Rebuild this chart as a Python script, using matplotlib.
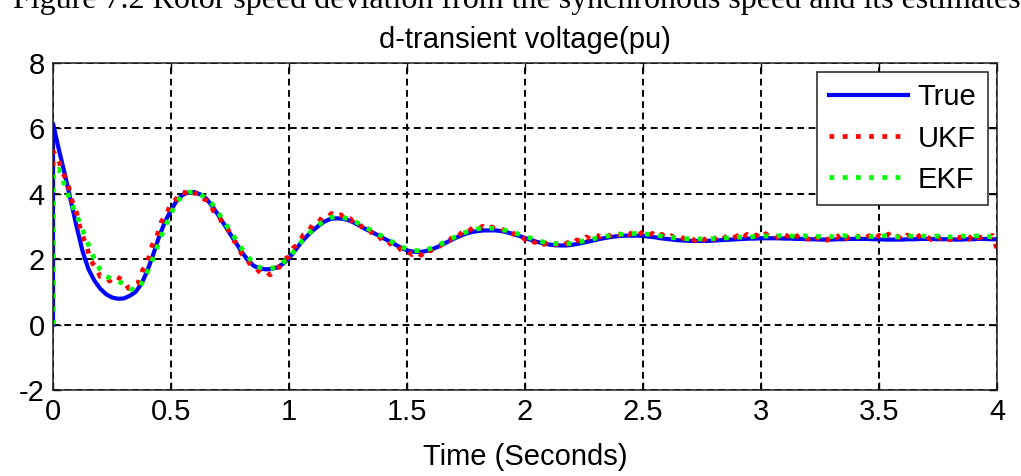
import numpy as np
import matplotlib
matplotlib.use("Agg")
import matplotlib.pyplot as plt

plt.rcParams['font.family'] = ['Liberation Sans', 'DejaVu Sans']
plt.rcParams['axes.unicode_minus'] = False

# d-transient voltage (pu): true trajectory, sampled every 0.025 s from t = 0
true_vals = [
    6.15, 5.35, 4.60, 3.80, 3.00, 2.25, 1.70, 1.35, 1.10, 0.93,
    0.83, 0.79, 0.80, 0.88, 1.00, 1.25, 1.65, 2.15, 2.70, 3.15,
    3.50, 3.80, 3.97, 4.05, 4.05, 3.98, 3.85, 3.62, 3.35, 3.07,
    2.78, 2.50, 2.22, 1.98, 1.80, 1.72, 1.69, 1.70, 1.75, 1.86,
    2.02, 2.26, 2.50, 2.70, 2.87, 3.02, 3.15, 3.23, 3.25, 3.24,
    3.20, 3.12, 3.02, 2.92, 2.83, 2.74, 2.64, 2.55, 2.45, 2.35,
    2.27, 2.23, 2.22, 2.24, 2.29, 2.36, 2.45, 2.54, 2.63, 2.71,
    2.78, 2.83, 2.86, 2.88, 2.88, 2.88, 2.86, 2.82, 2.77, 2.71,
    2.65, 2.59, 2.53, 2.49, 2.45, 2.43, 2.42, 2.42, 2.44, 2.47,
    2.51, 2.55, 2.59, 2.63, 2.66, 2.69, 2.71, 2.72, 2.72, 2.72,
    2.71, 2.69, 2.67, 2.64, 2.62, 2.60, 2.58, 2.57, 2.56, 2.56,
    2.56, 2.56, 2.57, 2.58, 2.59, 2.60, 2.61, 2.62, 2.63, 2.63,
    2.64, 2.64, 2.64, 2.64, 2.63, 2.63, 2.62, 2.62, 2.61, 2.61,
    2.60, 2.60, 2.60, 2.61, 2.61, 2.62, 2.62, 2.62, 2.62, 2.61,
    2.61, 2.60, 2.60, 2.60, 2.60, 2.61, 2.61, 2.62, 2.62, 2.62,
    2.61, 2.61, 2.61, 2.60, 2.60, 2.61, 2.61, 2.62, 2.62, 2.61,
    2.61,
]

# UKF estimate, every 0.02 s
ukf_vals = [
    5.30, 5.12, 4.66, 4.38, 3.80, 3.42, 2.80, 2.46, 1.95, 1.76,
    1.47, 1.48, 1.33, 1.50, 1.42, 1.36, 1.10, 1.18, 1.26, 1.67,
    1.90, 2.42, 2.70, 3.16, 3.36, 3.71, 3.82, 4.06, 4.03, 4.13,
    4.01, 4.03, 3.84, 3.78, 3.47, 3.38, 3.05, 2.94, 2.60, 2.48,
    2.15, 2.04, 1.77, 1.73, 1.57, 1.63, 1.52, 1.71, 1.76, 2.00,
    2.08, 2.36, 2.46, 2.74, 2.81, 3.06, 3.08, 3.28, 3.26, 3.40,
    3.29, 3.36, 3.20, 3.24, 3.04, 3.07, 2.87, 2.91, 2.70, 2.72,
    2.52, 2.56, 2.37, 2.41, 2.23, 2.27, 2.14, 2.23, 2.12, 2.30,
    2.25, 2.43, 2.40, 2.60, 2.57, 2.76, 2.72, 2.89, 2.84, 2.98,
    2.90, 3.01, 2.91, 2.99, 2.88, 2.95, 2.81, 2.87, 2.71, 2.75,
    2.60, 2.66, 2.51, 2.58, 2.45, 2.53, 2.40, 2.49, 2.39, 2.51,
    2.45, 2.59, 2.53, 2.68, 2.61, 2.75, 2.68, 2.80, 2.71, 2.84,
    2.74, 2.86, 2.75, 2.85, 2.74, 2.84, 2.71, 2.79, 2.67, 2.76,
    2.63, 2.72, 2.60, 2.70, 2.58, 2.67, 2.57, 2.69, 2.59, 2.71,
    2.60, 2.73, 2.62, 2.75, 2.64, 2.72, 2.61, 2.76, 2.66, 2.74,
    2.63, 2.78, 2.66, 2.73, 2.60, 2.75, 2.67, 2.80, 2.65, 2.72,
    2.61, 2.77, 2.64, 2.71, 2.58, 2.74, 2.66, 2.79, 2.63, 2.70,
    2.60, 2.76, 2.65, 2.72, 2.59, 2.73, 2.62, 2.77, 2.64, 2.70,
    2.58, 2.74, 2.66, 2.78, 2.62, 2.71, 2.60, 2.75, 2.63, 2.70,
    2.59, 2.76, 2.65, 2.72, 2.61, 2.77, 2.64, 2.70, 2.60, 2.73,
    2.32,
]

# EKF estimate, every 0.025 s
ekf_vals = [
    4.70, 4.75, 4.25, 3.75, 3.35, 2.90, 2.45, 2.00, 1.68, 1.48,
    1.38, 1.32, 1.25, 1.10, 1.05, 1.25, 1.60, 2.05, 2.55, 3.00,
    3.40, 3.75, 3.95, 4.05, 4.05, 3.98, 3.87, 3.68, 3.42, 3.15,
    2.87, 2.60, 2.32, 2.08, 1.88, 1.75, 1.70, 1.72, 1.78, 1.90,
    2.05, 2.28, 2.52, 2.72, 2.90, 3.05, 3.18, 3.27, 3.30, 3.28,
    3.24, 3.17, 3.07, 2.97, 2.88, 2.78, 2.68, 2.58, 2.48, 2.39,
    2.31, 2.27, 2.26, 2.28, 2.33, 2.40, 2.49, 2.58, 2.67, 2.76,
    2.83, 2.89, 2.93, 2.95, 2.95, 2.94, 2.91, 2.87, 2.82, 2.76,
    2.70, 2.64, 2.58, 2.53, 2.50, 2.48, 2.47, 2.47, 2.49, 2.52,
    2.56, 2.60, 2.64, 2.68, 2.71, 2.74, 2.76, 2.77, 2.78, 2.79,
    2.78, 2.76, 2.74, 2.71, 2.68, 2.66, 2.64, 2.63, 2.62, 2.62,
    2.62, 2.62, 2.63, 2.64, 2.65, 2.66, 2.67, 2.68, 2.68, 2.69,
    2.70, 2.71, 2.69, 2.72, 2.70, 2.71, 2.69, 2.72, 2.70, 2.68,
    2.70, 2.71, 2.69, 2.70, 2.72, 2.70, 2.68, 2.70, 2.71, 2.69,
    2.70, 2.72, 2.70, 2.68, 2.69, 2.71, 2.70, 2.72, 2.70, 2.69,
    2.71, 2.70, 2.68, 2.70, 2.71, 2.69, 2.70, 2.72, 2.70, 2.69,
    2.70,
]

xticks = [0, 0.5, 1, 1.5, 2, 2.5, 3, 3.5, 4]
xtick_labels = ['0', '0.5', '1', '1.5', '2', '2.5', '3', '3.5', '4']
yticks = [-2, 0, 2, 4, 6, 8]


def with_start(vals):
    # every signal starts from zero at t = 0 and jumps to its first sample
    t = np.concatenate([[0.0], np.linspace(0.0, 4.0, len(vals))])
    return t, np.concatenate([[0.0], vals])


fig = plt.figure(figsize=(10.21, 4.76), dpi=100)
ax = fig.add_axes([53 / 1021, 1 - 390 / 476, 944 / 1021, 327 / 476])

t, v = with_start(true_vals)
ax.plot(t, v, color='#0000ff', lw=3.0, label='True')
t, v = with_start(ukf_vals)
ax.plot(t, v, color='#ff0000', lw=3.4, ls=(0, (1, 1.8)), label='UKF')
t, v = with_start(ekf_vals)
ax.plot(t, v, color='#00ff00', lw=3.4, ls=(0, (1, 1.8)), label='EKF')

ax.set_xlim(0, 4)
ax.set_ylim(-2, 8)
ax.set_xticks(xticks)
ax.set_xticklabels(xtick_labels)
ax.set_yticks(yticks)
ax.tick_params(direction='in', length=6, width=1.0, labelsize=21,
               top=True, right=True, pad=6)
ax.grid(True, color='black', lw=1.4, ls=(0, (3.5, 2.3)))
for s in ax.spines.values():
    s.set_linewidth(1.1)
    s.set_color('#202020')

ax.set_title('d-transient voltage(pu)', fontsize=21, pad=11)
ax.set_xlabel('Time (Seconds)', fontsize=21, labelpad=12)

leg = ax.legend(loc='upper right', fontsize=21, handlelength=2.7,
                handletextpad=0.35, labelspacing=0.45, borderpad=0.4,
                borderaxespad=0.3, fancybox=False, framealpha=1)
leg.get_frame().set_edgecolor('#202020')
leg.get_frame().set_linewidth(1.1)

# figure caption sitting above the panel
fig.text(13 / 1021, 1 - 8 / 476,
         'Figure 7.2 Rotor speed deviation from the synchronous speed and its estimates',
         family=['Liberation Serif', 'DejaVu Serif'], fontsize=23,
         ha='left', va='baseline')

fig.savefig('out.png', dpi=100)
